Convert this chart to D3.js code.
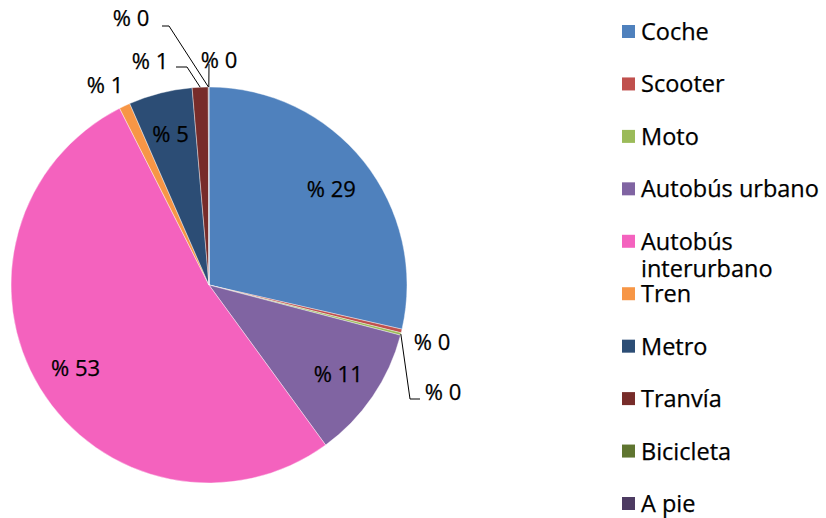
<!DOCTYPE html>
<html>
<head>
<meta charset="utf-8">
<script src="https://cdn.jsdelivr.net/npm/d3@7"></script>
<style>
  body { margin: 0; background: #fff; }
  text { font-family: 'Open Sans', sans-serif; fill: #000; stroke: #000; stroke-width: 0.25px; }
</style>
</head>
<body>
<svg id="chart" width="826" height="518"></svg>
<script>
// modes of transport and their share (%)
const categories = ['Coche', 'Scooter', 'Moto', 'Autobús urbano', 'Autobús interurbano',
  'Tren', 'Metro', 'Tranvía', 'Bicicleta', 'A pie']
const shares = [28.6, 0.3, 0.2, 10.9, 52.6, 0.9, 5.2, 1.3, 0.03, 0.03]
const colors = ['#4f81bd', '#c0504d', '#9bbb59', '#8064a2', '#f462be',
  '#f79646', '#2c4d75', '#772c2a', '#5f7530', '#4d3b62']

const svg = d3.select('#chart')
const cx = 209
const cy = 285
const radius = 198

const data = categories.map(function (c, i) { return { name: c, value: shares[i], color: colors[i] } })

const pie = d3.pie().sort(null).value(function (d) { return d.value })
const arcs = pie(data)
const arc = d3.arc().innerRadius(0).outerRadius(radius)
const labelArc = d3.arc().innerRadius(radius * 0.79).outerRadius(radius * 0.79)
const edgeArc = d3.arc().innerRadius(radius).outerRadius(radius)

const g = svg.append('g').attr('transform', 'translate(' + cx + ',' + cy + ')')

g.selectAll('path')
  .data(arcs)
  .enter().append('path')
  .attr('d', arc)
  .attr('fill', function (d) { return d.data.color })
  .attr('stroke', '#fff')
  .attr('stroke-width', 0.4)

function pct (v) { return '% ' + Math.round(v) }

// outside labels for the thin slices: label offset from centre, plus leader bend
const outside = {
  'Scooter': { x: 223, y: 56 },
  'Moto': { x: 234, y: 106, bend: [[201, 114], [211, 114]] },
  'Tren': { x: -104, y: -201 },
  'Tranvía': { x: -59, y: -225, bend: [[-22, -218], [-33, -218]] },
  'Bicicleta': { x: -78, y: -268, bend: [[-40, -259], [-47, -259]] },
  'A pie': { x: 10, y: -226, bend: [[0, -221]] }
}

arcs.forEach(function (d) {
  const o = outside[d.data.name]
  if (!o) {
    const c = labelArc.centroid(d)
    g.append('text')
      .attr('x', c[0]).attr('y', c[1])
      .attr('text-anchor', 'middle')
      .attr('dominant-baseline', 'central')
      .style('font-size', '22px')
      .text(pct(d.data.value))
    return
  }
  if (o.bend) {
    const e = edgeArc.centroid(d)
    const pts = [e].concat(o.bend)
    g.append('path')
      .attr('d', d3.line()(pts))
      .attr('fill', 'none')
      .attr('stroke', '#000')
      .attr('stroke-width', 1)
  }
  g.append('text')
    .attr('x', o.x).attr('y', o.y)
    .attr('text-anchor', 'middle')
    .attr('dominant-baseline', 'central')
    .style('font-size', '22px')
    .text(pct(d.data.value))
})

// legend
const legend = svg.append('g').attr('transform', 'translate(622,0)')
const rowY = d3.scaleLinear().domain([0, 9]).range([31, 503])

const item = legend.selectAll('g')
  .data(data)
  .enter().append('g')
  .attr('transform', function (d, i) { return 'translate(0,' + rowY(i) + ')' })

item.append('rect')
  .attr('x', 0).attr('y', -6)
  .attr('width', 13).attr('height', 13)
  .attr('fill', function (d) { return d.color })

item.each(function (d) {
  const t = d3.select(this).append('text')
    .attr('x', 19).attr('y', 0)
    .attr('dominant-baseline', 'central')
    .style('font-size', '23.5px')
  const words = d.name === 'Autobús interurbano' ? ['Autobús', 'interurbano'] : [d.name]
  words.forEach(function (w, k) {
    t.append('tspan').attr('x', 19).attr('dy', k === 0 ? 0 : 27).text(w)
  })
})
</script>
</body>
</html>
